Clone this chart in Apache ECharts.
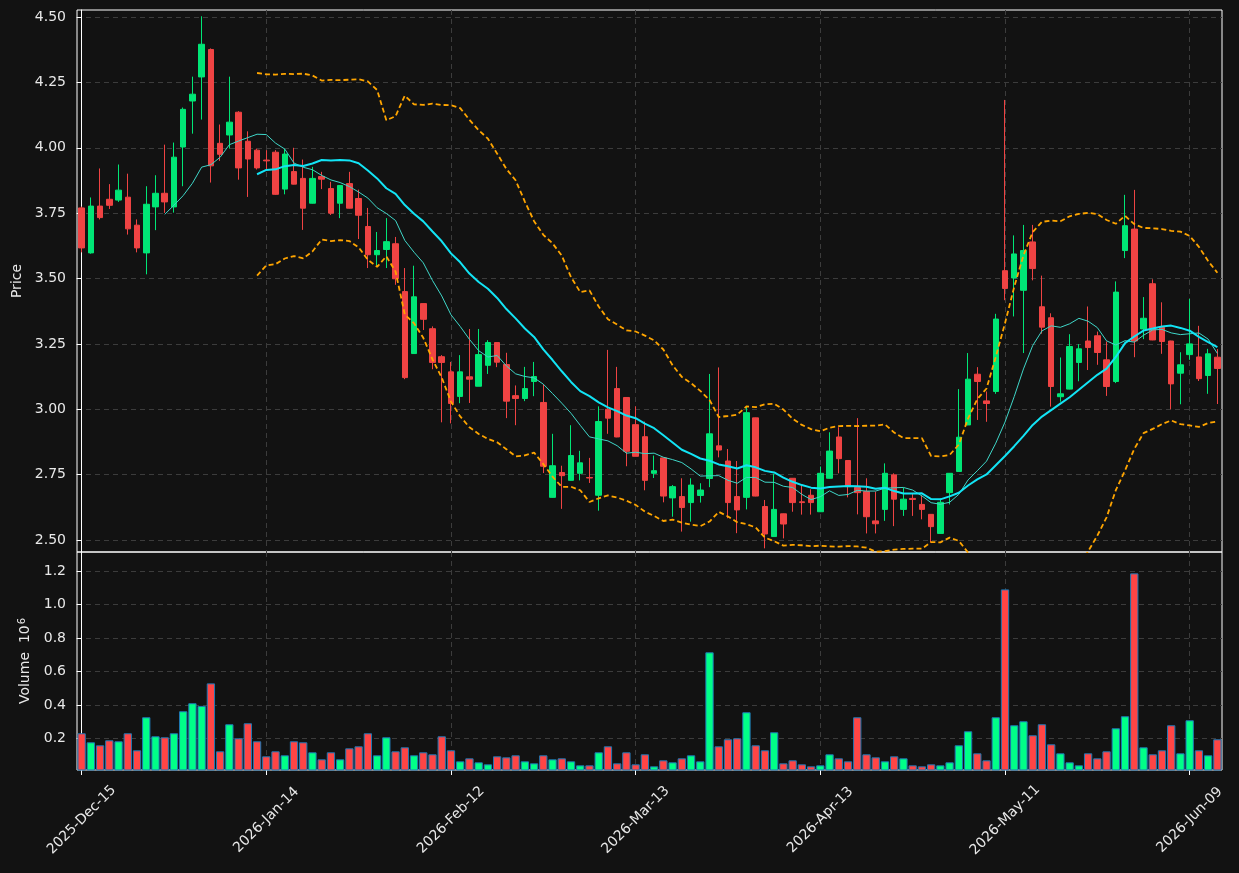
<!DOCTYPE html>
<html>
<head>
<meta charset="utf-8">
<script src="https://cdn.jsdelivr.net/npm/echarts@6/dist/echarts.min.js"></script>
<style>
  html, body { margin: 0; padding: 0; background: #121212; }
  #chart { width: 1239px; height: 873px; }
</style>
</head>
<body>
<div id="chart"></div>
<script>
// trading days (NYSE calendar)
var dates = [
  '2025-12-15','2025-12-16','2025-12-17','2025-12-18','2025-12-19','2025-12-22','2025-12-23','2025-12-24','2025-12-26','2025-12-29','2025-12-30','2025-12-31',
  '2026-01-02','2026-01-05','2026-01-06','2026-01-07','2026-01-08','2026-01-09','2026-01-12','2026-01-13','2026-01-14','2026-01-15','2026-01-16',
  '2026-01-20','2026-01-21','2026-01-22','2026-01-23','2026-01-26','2026-01-27','2026-01-28','2026-01-29','2026-01-30',
  '2026-02-02','2026-02-03','2026-02-04','2026-02-05','2026-02-06','2026-02-09','2026-02-10','2026-02-11','2026-02-12','2026-02-13',
  '2026-02-17','2026-02-18','2026-02-19','2026-02-20','2026-02-23','2026-02-24','2026-02-25','2026-02-26','2026-02-27',
  '2026-03-02','2026-03-03','2026-03-04','2026-03-05','2026-03-06','2026-03-09','2026-03-10','2026-03-11','2026-03-12','2026-03-13',
  '2026-03-16','2026-03-17','2026-03-18','2026-03-19','2026-03-20','2026-03-23','2026-03-24','2026-03-25','2026-03-26','2026-03-27','2026-03-30','2026-03-31',
  '2026-04-01','2026-04-02','2026-04-06','2026-04-07','2026-04-08','2026-04-09','2026-04-10','2026-04-13','2026-04-14','2026-04-15','2026-04-16','2026-04-17',
  '2026-04-20','2026-04-21','2026-04-22','2026-04-23','2026-04-24','2026-04-27','2026-04-28','2026-04-29','2026-04-30',
  '2026-05-01','2026-05-04','2026-05-05','2026-05-06','2026-05-07','2026-05-08','2026-05-11','2026-05-12','2026-05-13','2026-05-14','2026-05-15',
  '2026-05-18','2026-05-19','2026-05-20','2026-05-21','2026-05-22','2026-05-26','2026-05-27','2026-05-28','2026-05-29',
  '2026-06-01','2026-06-02','2026-06-03','2026-06-04','2026-06-05','2026-06-08','2026-06-09','2026-06-10','2026-06-11','2026-06-12'
];

var opens = [
  3.770,3.598,3.777,3.803,3.800,3.811,3.704,3.598,3.774,3.826,3.774,4.003,4.179,4.271,4.376,4.017,4.049,4.136,4.025,3.991,
  3.953,3.983,3.842,3.909,3.883,3.788,3.890,3.844,3.788,3.863,3.806,3.699,3.591,3.611,3.633,3.450,3.213,3.404,3.308,3.201,
  3.143,3.049,3.124,3.088,3.168,3.255,3.171,3.052,3.041,3.106,3.026,2.663,2.758,2.728,2.755,2.739,2.671,3.000,3.079,3.045,
  2.941,2.895,2.755,2.814,2.661,2.666,2.643,2.670,2.735,2.860,2.802,2.666,2.663,2.967,2.628,2.513,2.600,2.736,2.646,2.671,
  2.608,2.736,2.894,2.804,2.701,2.685,2.573,2.617,2.749,2.617,2.659,2.636,2.598,2.525,2.681,2.762,2.940,3.134,3.032,3.068,
  3.530,3.502,3.455,3.640,3.392,3.350,3.048,3.077,3.179,3.261,3.281,3.189,3.106,3.607,3.689,3.307,3.480,3.313,3.261,3.138,
  3.209,3.200,3.129,3.199
];
var highs = [
  3.775,3.810,3.921,3.861,3.936,3.901,3.726,3.853,3.895,4.012,4.020,4.154,4.272,4.503,4.380,4.089,4.272,4.140,4.063,3.997,
  3.991,3.991,3.996,4.000,3.955,3.927,3.908,3.870,3.857,3.908,3.840,3.770,3.678,3.731,3.659,3.540,3.549,3.405,3.317,3.207,
  3.181,3.207,3.307,3.307,3.264,3.256,3.216,3.091,3.162,3.181,3.096,2.906,2.784,2.939,2.841,2.814,3.011,3.227,3.162,3.046,
  3.011,2.953,2.823,2.815,2.710,2.736,2.736,2.717,3.135,3.160,2.848,2.802,3.010,2.968,2.653,2.753,2.601,2.737,2.710,2.694,
  2.781,2.912,2.931,2.805,2.966,2.736,2.685,2.793,2.755,2.700,2.679,2.672,2.599,2.659,2.756,3.077,3.215,3.161,3.068,3.365,
  4.183,3.665,3.705,3.705,3.511,3.367,3.198,3.287,3.249,3.393,3.297,3.259,3.489,3.820,3.839,3.429,3.497,3.409,3.262,3.218,
  3.422,3.319,3.231,3.230
];
var lows = [
  3.600,3.595,3.726,3.766,3.793,3.668,3.600,3.516,3.685,3.751,3.752,3.853,4.054,4.108,3.867,3.950,3.997,3.878,3.812,3.917,
  3.914,3.820,3.822,3.860,3.686,3.787,3.842,3.743,3.731,3.768,3.651,3.540,3.550,3.540,3.476,3.115,3.212,3.303,3.153,2.950,
  2.946,3.023,3.024,3.088,3.135,3.161,2.966,2.939,3.031,3.050,2.756,2.662,2.619,2.728,2.728,2.718,2.612,2.906,2.893,2.782,
  2.820,2.690,2.737,2.644,2.589,2.532,2.570,2.643,2.702,2.816,2.583,2.526,2.617,2.667,2.468,2.512,2.506,2.608,2.597,2.597,
  2.607,2.735,2.755,2.663,2.598,2.525,2.525,2.573,2.553,2.592,2.592,2.579,2.490,2.524,2.636,2.761,2.939,2.959,2.952,3.059,
  3.417,3.355,3.215,3.493,3.289,3.010,3.029,3.076,3.107,3.150,3.170,3.051,3.100,3.578,3.199,3.268,3.264,3.212,3.000,3.019,
  3.189,3.108,3.059,3.020
];
var closes = [
  3.617,3.777,3.733,3.780,3.838,3.690,3.617,3.784,3.826,3.793,3.964,4.147,4.205,4.396,3.931,3.975,4.098,3.923,3.957,3.923,
  3.950,3.822,3.976,3.861,3.769,3.883,3.880,3.750,3.856,3.769,3.742,3.591,3.607,3.641,3.499,3.121,3.430,3.344,3.179,3.179,
  3.022,3.143,3.115,3.209,3.255,3.180,3.031,3.041,3.079,3.125,2.782,2.784,2.746,2.823,2.795,2.737,2.953,2.966,2.894,2.839,
  2.820,2.728,2.765,2.668,2.704,2.624,2.710,2.691,2.906,2.844,2.643,2.615,2.987,2.668,2.523,2.617,2.561,2.643,2.643,2.643,
  2.755,2.840,2.811,2.704,2.681,2.589,2.562,2.755,2.656,2.656,2.655,2.617,2.551,2.644,2.755,2.893,3.115,3.106,3.022,3.345,
  3.462,3.594,3.607,3.538,3.314,3.087,3.059,3.240,3.231,3.236,3.217,3.087,3.448,3.702,3.261,3.348,3.265,3.259,3.097,3.170,
  3.250,3.117,3.212,3.156
];
// volume in millions
var volumes = [
  0.230,0.176,0.158,0.188,0.182,0.230,0.128,0.326,0.212,0.206,0.230,0.362,0.410,0.394,0.529,0.122,0.284,0.200,0.290,0.182,
  0.092,0.122,0.098,0.182,0.176,0.116,0.074,0.116,0.074,0.140,0.152,0.230,0.098,0.206,0.122,0.146,0.098,0.116,0.104,0.212,
  0.128,0.062,0.080,0.056,0.044,0.092,0.086,0.098,0.062,0.050,0.098,0.074,0.080,0.062,0.038,0.038,0.116,0.152,0.050,0.116,
  0.044,0.104,0.032,0.068,0.056,0.080,0.098,0.062,0.715,0.152,0.194,0.200,0.356,0.158,0.128,0.236,0.050,0.068,0.044,0.032,
  0.038,0.104,0.080,0.062,0.326,0.104,0.086,0.062,0.092,0.080,0.038,0.032,0.044,0.038,0.056,0.158,0.242,0.110,0.068,0.326,
  1.092,0.278,0.302,0.218,0.284,0.164,0.110,0.056,0.038,0.110,0.080,0.122,0.260,0.332,1.188,0.146,0.104,0.128,0.278,0.110,
  0.308,0.128,0.098,0.194
];
var priceTicks = [2.50, 2.75, 3.00, 3.25, 3.50, 3.75, 4.00, 4.25, 4.50];
var volumeTicks = [0.2, 0.4, 0.6, 0.8, 1.0, 1.2];
var dateTicks = ['2025-12-15','2026-01-14','2026-02-12','2026-03-13','2026-04-13','2026-05-11','2026-06-09'];

var months = ['Jan','Feb','Mar','Apr','May','Jun','Jul','Aug','Sep','Oct','Nov','Dec'];
function fmtDate(d) {
    var p = d.split('-');
    return p[0] + '-' + months[parseInt(p[1], 10) - 1] + '-' + p[2];
}

function movingAvg(n) {
    var out = [];
    for (var i = 0; i < closes.length; i++) {
        if (i < n - 1) { out.push(null); continue; }
        var s = 0;
        for (var j = i - n + 1; j <= i; j++) s += closes[j];
        out.push(s / n);
    }
    return out;
}
function bollinger(n, k, sign) {
    var mid = movingAvg(n);
    return mid.map(function (m, i) {
        if (m === null) return null;
        var s = 0;
        for (var j = i - n + 1; j <= i; j++) s += (closes[j] - m) * (closes[j] - m);
        return m + sign * k * Math.sqrt(s / n);
    });
}

var upC = '#00e676', downC = '#ef4343';
var upV = '#00ff88', downV = '#ff4545';
var gridC = '#3c3c3c';
var txt = '#e8e8e8';
var font = 'DejaVu Sans';

var candleData = dates.map(function (d, i) { return [opens[i], closes[i], lows[i], highs[i]]; });
var volData = volumes.map(function (v, i) {
    return { value: v, itemStyle: { color: closes[i] >= opens[i] ? upV : downV } };
});
// positions of the labelled dates, used for the vertical dashed grid
var tickIdx = dateTicks.map(function (d) { return dates.indexOf(d); });

// hidden index axis per panel that only draws the vertical grid lines
function gridAxis(g) {
    return {
        type: 'value', gridIndex: g, min: -0.5, max: dates.length - 0.5,
        axisLine: { show: false }, axisLabel: { show: false },
        axisTick: { show: false, customValues: tickIdx },
        splitLine: { show: true, lineStyle: { color: gridC, type: [5, 4], width: 1 } }
    };
}

var chart = echarts.init(document.getElementById('chart'), null, { renderer: 'canvas' });
chart.setOption({
    backgroundColor: '#121212',
    animation: false,
    textStyle: { fontFamily: font },
    grid: [
        { left: 77, right: 17, top: 10, height: 542, show: true, borderColor: '#ffffff', borderWidth: 1 },
        { left: 77, right: 17, top: 552, height: 218, show: true, borderColor: '#ffffff', borderWidth: 1 }
    ],
    xAxis: [
        {
            type: 'category', gridIndex: 0, data: dates, boundaryGap: true,
            axisLine: { show: false }, axisTick: { show: false }, axisLabel: { show: false }, splitLine: { show: false }
        },
        {
            type: 'category', gridIndex: 1, data: dates, boundaryGap: true,
            axisLine: { show: false },
            axisTick: { show: true, interval: 19, alignWithLabel: true, length: 5, lineStyle: { color: '#ffffff' } },
            axisLabel: {
                interval: 19, rotate: 45, margin: 50, align: 'center', verticalAlign: 'middle',
                color: txt, fontSize: 14, fontFamily: font,
                formatter: function (v) { return fmtDate(v); }
            },
            splitLine: { show: false }
        },
        gridAxis(0),
        gridAxis(1)
    ],
    yAxis: [
        {
            type: 'value', gridIndex: 0, min: 2.454, max: 4.527, scale: true,
            name: 'Price', nameLocation: 'middle', nameGap: 52, nameRotate: 90,
            nameTextStyle: { color: txt, fontSize: 14, fontFamily: font },
            axisLine: { show: true, lineStyle: { color: '#ffffff' } },
            axisTick: { show: true, length: 5, customValues: priceTicks, lineStyle: { color: '#ffffff' } },
            axisLabel: {
                customValues: priceTicks, color: txt, fontSize: 14, fontFamily: font, margin: 11,
                formatter: function (v) { return v.toFixed(2); }
            },
            splitLine: { show: true, lineStyle: { color: gridC, type: [5, 4] } }
        },
        {
            type: 'value', gridIndex: 1, min: 0.01, max: 1.316,
            name: '{a|Volume  10}{b|6}', nameLocation: 'middle', nameGap: 44, nameRotate: 90,
            nameTextStyle: {
                color: txt, fontSize: 14, fontFamily: font,
                rich: {
                    a: { color: txt, fontSize: 14, fontFamily: font },
                    b: { color: txt, fontSize: 10, fontFamily: font, verticalAlign: 'top', padding: [0, 0, 6, 1] }
                }
            },
            axisLine: { show: true, lineStyle: { color: '#ffffff' } },
            axisTick: { show: true, length: 5, customValues: volumeTicks, lineStyle: { color: '#ffffff' } },
            axisLabel: {
                customValues: volumeTicks, color: txt, fontSize: 14, fontFamily: font, margin: 11,
                formatter: function (v) { return v.toFixed(1); }
            },
            splitLine: { show: true, lineStyle: { color: gridC, type: [5, 4] } }
        }
    ],
    series: [
        {
            name: 'OHLC', type: 'candlestick', xAxisIndex: 0, yAxisIndex: 0, z: 3,
            data: candleData, barWidth: '65%',
            itemStyle: { color: upC, color0: downC, borderColor: upC, borderColor0: downC, borderWidth: 1 }
        },
        {
            name: 'MA10', type: 'line', xAxisIndex: 0, yAxisIndex: 0, z: 4,
            data: movingAvg(10), showSymbol: false, connectNulls: false,
            lineStyle: { color: '#3fd6c8', width: 1 }
        },
        {
            name: 'MA20', type: 'line', xAxisIndex: 0, yAxisIndex: 0, z: 5,
            data: movingAvg(20), showSymbol: false,
            lineStyle: { color: '#12e4f5', width: 2 }
        },
        {
            name: 'BB upper', type: 'line', xAxisIndex: 0, yAxisIndex: 0, z: 5,
            data: bollinger(20, 2, 1), showSymbol: false, clip: true,
            lineStyle: { color: '#ffa500', width: 1.8, type: [5, 3] }
        },
        {
            name: 'BB lower', type: 'line', xAxisIndex: 0, yAxisIndex: 0, z: 5,
            data: bollinger(20, 2, -1), showSymbol: false, clip: true,
            lineStyle: { color: '#ffa500', width: 1.8, type: [5, 3] }
        },
        {
            name: 'Volume', type: 'bar', xAxisIndex: 1, yAxisIndex: 1, z: 3,
            data: volData, barWidth: '90%',
            itemStyle: { borderColor: '#1f77b4', borderWidth: 1 }
        }
    ]
});
</script>
</body>
</html>
